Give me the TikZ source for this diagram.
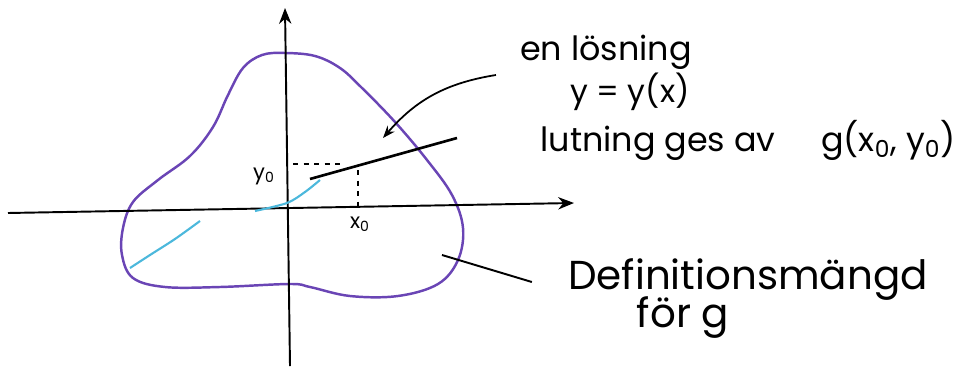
\documentclass[tikz,border=0pt]{standalone}
\usepackage{fontspec}
\setmainfont{Poppins}
\definecolor{domviolet}{HTML}{6A45B5}
\definecolor{solcyan}{HTML}{4CB8DC}
\usetikzlibrary{arrows.meta,positioning,calc}

\begin{document}
\begin{tikzpicture}[x=0.02cm,y=-0.02cm,
  axis/.style={line width=1.1pt,-{Stealth[length=9pt,width=7pt]}},
  hand/.style={font=\fontsize{18}{21}\selectfont, inner sep=0pt},
  bighand/.style={font=\fontsize{23}{27}\selectfont, inner sep=0pt},
  smallhand/.style={font=\fontsize{12}{14}\selectfont, inner sep=0pt}]
\useasboundingbox (0,0) rectangle (969,372);

% Definition domain
\draw[domviolet, line width=1.4pt] plot[smooth cycle, tension=0.6] coordinates {
  (285,53) (315,56) (340,68) (362,88) (395,122) (427,160) (452,195)
  (463,228) (458,260) (438,284) (398,296) (350,296) (310,287) (290,284)
  (220,287) (165,287) (133,278) (122,255) (123,228) (133,202) (158,180)
  (190,156) (213,127) (228,95) (243,68) (262,55)};

% Axes
\coordinate (xstart) at (8,213);
\coordinate (xend) at (574,203);
\coordinate (ystart) at (290,366);
\coordinate (yend) at (285,8);
\draw[axis] (xstart) -- (xend);
\draw[axis] (ystart) -- (yend);

% Solution curve
\draw[solcyan, line width=1.2pt] plot[smooth] coordinates {(130,268) (150,255) (175,239) (200,221)};
\draw[solcyan, line width=1.2pt] plot[smooth] coordinates {(255,211) (287,203) (305,192) (320,180)};

% Tangent at (x0,y0)
\coordinate (t1) at (310,179);
\coordinate (t2) at (457,138);
\draw[line width=1.5pt] (t1) -- (t2);

\coordinate (hy1) at (293,164);
\coordinate (hy2) at (340,164);
\coordinate (vx1) at (358,170);
\coordinate (vx2) at (358,208);
\draw[dashed, line width=1pt] (hy1) -- (hy2);
\draw[dashed, line width=1pt] (vx1) -- (vx2);

\node[smallhand] (ylab) at (264,176) {y\textsubscript{0}};
\node[smallhand] (xlab) at (360,224) {x\textsubscript{0}};

% Texts
\node[hand, font=\fontsize{19}{22}\selectfont] (sol) at (606,52) {en lösning};
\node[hand] (yeq) at (630,92) {y = y(x)};
\node[hand, font=\fontsize{19}{22}\selectfont] (slope) at (748,140) {lutning ges av\hspace{26pt}g(x\textsubscript{0}, y\textsubscript{0})};
\node[bighand] (dom) at (748,280) {Definitionsmängd};
\node[bighand] (domg) at (683,318) {för g};

% Pointers
\coordinate (soltip) at (383,138);
\coordinate (domtip) at (442,255);
\draw[line width=1pt, -{Stealth[length=7pt]}] ($(sol.west)+(-24,23)$) to[bend right=20] (soltip);
\draw[line width=1.1pt] (domtip) -- ($(dom.west)+(-36,2)$);
\end{tikzpicture}
\end{document}
